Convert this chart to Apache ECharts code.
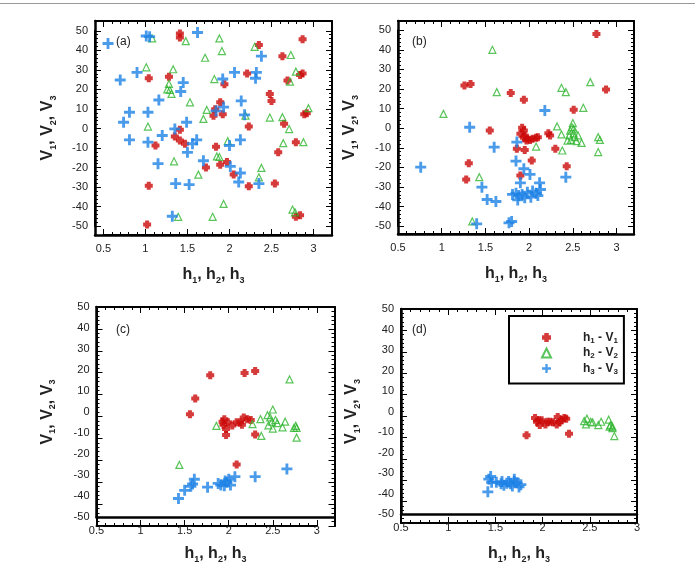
<!DOCTYPE html>
<html><head><meta charset="utf-8">
<script src="https://cdn.jsdelivr.net/npm/echarts@6/dist/echarts.min.js"></script>
<style>html,body{margin:0;padding:0;background:#fff}#c{width:695px;height:565px;border-top:0}#topline{position:absolute;left:0;top:3px;width:695px;height:0;border-top:1.5px solid #999}</style>
</head><body><div id="topline"></div><div id="c"></div>
<script>
// ---------- DATA ----------
const xTickLabels = [0.5, 1, 1.5, 2, 2.5, 3];
const yTickLabels = [-50, -40, -30, -20, -10, 0, 10, 20, 30, 40, 50];
const seriesNames = ['h1 - V1', 'h2 - V2', 'h3 - V3'];
const panelTags = ['(a)', '(b)', '(c)', '(d)'];

// panel (a)
const a_h1 = [[1.41,48.6],[1.41,46.6],[2.35,42.7],[2.87,45.7],[2.63,37],[2.21,28.2],[2.87,28.2],[2.84,27.4],[2.69,24.5],[1.04,25.7],[1.28,26.5],[1.94,22.6],[2.48,17.7],[2.50,14.1],[1.89,13.4],[1.83,9.9],[1.81,6.5],[1.92,7.3],[2.92,7.8],[2.89,7.3],[2.65,2.4],[2.23,1],[1.41,-0.7],[1.35,-4.1],[1.41,-6.1],[1.47,-7.8],[1.12,-8.7],[2.79,-7.1],[1.84,-9.4],[2.58,-12.2],[1.97,-17.2],[1.89,-18.5],[1.72,-19.9],[2.05,-23.6],[2.54,-28.2],[2.23,-29.6],[1.04,-29.3],[2.79,-45.2],[2.84,-44.4],[1.02,-49.1]];
const a_h2 = [[1.08,46.1],[1.48,44.7],[1.88,46.1],[2.30,41.8],[1.91,39.6],[2.73,37.6],[1.71,36.2],[1.01,31.3],[1.33,30.3],[2.79,29.1],[2.72,24.0],[1.82,25.3],[1.28,22.8],[1.29,19.7],[1.26,20],[1.31,17.7],[1.53,13.4],[1.73,9.5],[2.19,6.6],[2.94,10.4],[1.69,4.9],[2.48,5.6],[2.63,5.8],[1.03,1],[2.71,-0.3],[1.98,-6.5],[2.64,-7.5],[2.88,-7.0],[1.85,-14.3],[1.88,-14.6],[1.34,-16.8],[2.38,-20.2],[2.35,-25],[1.63,-23.6],[1.93,-38.6],[1.80,-45.2],[1.39,-45.2],[2.75,-41.5],[2.78,-42.9]];
const a_h3 = [[0.555,43.5],[1.01,47.3],[1.05,47],[1.62,49.1],[2.38,37],[0.90,28.7],[0.70,24.8],[2.06,28.7],[2.32,28.7],[2.31,25.7],[1.92,25.3],[1.45,23.5],[1.42,18.9],[1.16,14.6],[2.14,14.1],[0.81,8.3],[1.03,8.3],[1.93,10.9],[1.84,9],[2.18,7],[0.74,3.2],[1.49,3.2],[1.35,-0.2],[1.20,-3.6],[0.81,-5.8],[1.03,-7],[1.61,-5.8],[1.56,-7.8],[2.13,-5.8],[2.0,-8.7],[1.50,-12.2],[1.15,-18],[1.69,-16.5],[2.01,-19.4],[2.13,-22.8],[2.11,-27.4],[1.36,-28.2],[1.52,-28.7],[2.35,-28.2],[1.32,-44.9]];

// panel (b)
const b_h1 = [[2.77,48.1],[1.26,21.8],[1.33,22.6],[1.79,17.9],[1.94,14.5],[2.88,19.7],[2.51,9.4],[1.55,-1.2],[1.92,0.2],[1.94,-1.2],[1.95,-3.7],[1.98,-5.4],[2.01,-6],[2.04,-5.4],[2.08,-4.9],[2.10,-4.6],[1.94,-4.9],[1.90,-2.9],[1.97,-6.3],[2.22,-2.6],[2.24,-3.7],[1.86,-10.5],[1.95,-11.1],[2.30,-10.5],[1.31,-17.9],[2.03,-16.5],[2.43,-19.4],[1.90,-24.1],[1.28,-26.2]];
const b_h2 = [[1.58,40],[1.63,18.4],[1.02,7.3],[2.37,20.6],[2.42,18.4],[2.70,23.5],[2.62,10.4],[2.32,0.9],[2.37,-3.2],[2.08,-9.4],[2.38,-11.4],[2.79,-12.2],[2.60,-7.5],[2.79,-4.6],[2.81,-6],[2.50,2.6],[2.49,0.5],[2.47,-1.2],[2.51,-2.6],[2.46,-3.7],[2.52,-4.6],[2.48,-6],[2.54,-6.6],[2.44,-6.3],[2.56,-3.7],[2.51,-0.3],[1.43,-25],[1.35,-47.6]];
const b_h3 = [[0.76,-19.9],[1.32,0.5],[1.60,-9.7],[2.18,9],[1.86,-7.1],[1.85,-16.8],[1.94,-20.7],[2.01,-23.6],[2.42,-25],[1.46,-30.1],[1.52,-36.4],[1.62,-37.4],[1.40,-48.8],[1.77,-48.3],[1.80,-47.6],[1.90,-27.9],[2.12,-27.9],[2.13,-31.3],[1.85,-33.2],[1.88,-34.4],[1.92,-33.8],[1.98,-32.7],[2.04,-32.1],[2.08,-33.2],[1.87,-36.6],[1.95,-35.5],[2.02,-35.2],[2.10,-34.4],[1.81,-33.8]];

// panel (c)
const c_h1 = [[1.79,17.5],[2.18,18.6],[2.30,19.5],[1.62,6.4],[1.56,-1.1],[1.95,-3.5],[1.94,-6.1],[1.97,-8.1],[1.99,-4.9],[2.04,-6.4],[2.09,-4.9],[2.15,-6.1],[2.17,-2.6],[2.21,-3.4],[2.25,-3.8],[2.13,-4.9],[1.93,-4.6],[1.97,-11],[2.30,-10.7],[2.09,-25]];
const c_h2 = [[2.69,15.5],[2.50,1.2],[2.44,-1.5],[2.47,-2.6],[2.36,-3.4],[2.53,-3.8],[2.49,-4.6],[2.55,-5.3],[2.45,-6.4],[2.50,-7.9],[2.64,-4.6],[2.61,-7.3],[2.27,-5.8],[1.86,-6.6],[2.37,-11.4],[2.76,-6.6],[2.77,-7.6],[2.74,-7.6],[2.77,-12.2],[1.44,-25.2]];
const c_h3 = [[1.43,-41.2],[1.50,-37.3],[1.57,-35.4],[1.59,-34.3],[1.61,-32],[1.76,-35.8],[1.88,-34],[1.91,-34.8],[1.96,-32.8],[1.98,-33.5],[2.02,-34.8],[2.0,-32],[1.95,-35.1],[2.07,-30.8],[2.30,-30.8],[2.66,-27.1]];

// panel (d)
const d_h1 = [[1.83,-11.6],[1.92,-3.2],[1.94,-5],[1.97,-6.6],[1.99,-4.3],[2.03,-6.3],[2.08,-5],[2.11,-5.3],[2.16,-2.7],[2.15,-6.3],[2.20,-4.3],[2.23,-3.2],[2.25,-3.5],[2.28,-10.8],[2.05,-5],[2.18,-5.3],[1.96,-4.3]];
const d_h2 = [[2.44,-4.7],[2.46,-6.3],[2.47,-3.5],[2.51,-5],[2.53,-5.3],[2.59,-6.6],[2.62,-5],[2.70,-4],[2.71,-7.4],[2.74,-8.1],[2.74,-7.4],[2.76,-12],[2.72,-6.6]];
const d_h3 = [[1.45,-31.7],[1.43,-33],[1.46,-34.5],[1.42,-39.2],[1.51,-34.5],[1.57,-34.2],[1.59,-36],[1.62,-35],[1.66,-35.3],[1.70,-34.2],[1.70,-33],[1.73,-34.8],[1.75,-36.8],[1.77,-35.7],[1.56,-35.3],[1.64,-34.2],[1.68,-36.4]];

const panelData = [[a_h1,a_h2,a_h3],[b_h1,b_h2,b_h3],[c_h1,c_h2,c_h3],[d_h1,d_h2,d_h3]];

// ---------- LAYOUT / STYLE ----------
const layout = [
  {left:95,   top:21,  width:237, height:214, xMin:0.4, xMax:3.22, yMin:-54.5, yMax:55, xGap:30, yGap:37},
  {left:398,  top:21,  width:236, height:213, xMin:0.5, xMax:3.2,  yMin:-54,   yMax:54.7, xGap:30, yGap:38},
  {left:96.5, top:307, width:238, height:219, xMin:0.5, xMax:3.2,  yMin:-50,   yMax:50, xGap:27, yGap:39},
  {left:401,  top:309, width:236, height:214, xMin:0.5, xMax:3.0,  yMin:-50,   yMax:50, xGap:30, yGap:39}
];
const tagPos = [[116,36],[412,36],[116,324],[412,324]];

const FONT = '"Liberation Sans", Arial, sans-serif';
const lab = {fontSize: 11, color: '#222', fontFamily: FONT};
const tick = {show: true, inside: true, length: 6, lineStyle: {color: '#000', width: 1}};
const minor = {show: true, splitNumber: 5, length: 3, lineStyle: {color: '#000', width: 1}};
const nameRich = {m: {fontSize: 16, fontWeight: 'bold', fontFamily: FONT, color: '#222', lineHeight: 20},
                  s: {fontSize: 9, fontWeight: 'bold', fontFamily: FONT, color: '#222', lineHeight: 10, verticalAlign: 'bottom'}};

const xAxis = [], yAxis = [], grid = [], series = [], title = [];
layout.forEach((L, g) => {
  const xMaj = xTickLabels.filter(v => v >= L.xMin && v <= L.xMax);
  const yMaj = yTickLabels.filter(v => v >= L.yMin && v <= L.yMax);
  const tx0 = xMaj[0], tx1 = xMaj[xMaj.length - 1], ty0 = yMaj[0], ty1 = yMaj[yMaj.length - 1];
  const xs = L.width / (L.xMax - L.xMin), ys = L.height / (L.yMax - L.yMin);
  const xRect = {left: L.left + (tx0 - L.xMin) * xs, width: (tx1 - tx0) * xs, top: L.top, height: L.height};
  const yRect = {left: L.left, width: L.width, top: L.top + (L.yMax - ty1) * ys, height: (ty1 - ty0) * ys};
  const addGrid = r => { grid.push({...r}); return grid.length - 1; };

  const g0 = addGrid({left: L.left, top: L.top, width: L.width, height: L.height});
  const xi = xAxis.length, yi = yAxis.length;
  xAxis.push({gridIndex: g0, type: 'value', min: L.xMin, max: L.xMax, position: 'bottom', splitLine: {show: false},
    name: '{m|h}{s|1}{m|, h}{s|2}{m|, h}{s|3}', nameLocation: 'middle', nameGap: L.xGap, nameTextStyle: {rich: nameRich},
    axisLine: {show: true, onZero: false, lineStyle: {color: '#000', width: 2.5}}, axisTick: {show: false},
    axisLabel: {show: true, customValues: xMaj, margin: 8, ...lab}});
  yAxis.push({gridIndex: g0, type: 'value', min: L.yMin, max: L.yMax, position: 'left', splitLine: {show: false},
    name: '{m|V}{s|1}{m|, V}{s|2}{m|, V}{s|3}', nameLocation: 'middle', nameRotate: 90, nameGap: L.yGap, nameTextStyle: {rich: nameRich},
    axisLine: {show: true, onZero: false, lineStyle: {color: '#000', width: 2.5}}, axisTick: {show: false},
    axisLabel: {show: true, customValues: yMaj, margin: 7, ...lab}});
  const g1 = addGrid({left: L.left, top: L.top, width: L.width, height: L.height});
  xAxis.push({gridIndex: g1, type: 'value', min: L.xMin, max: L.xMax, position: 'top', splitLine: {show: false},
    axisLine: {show: true, onZero: false, lineStyle: {color: '#000', width: 2}}, axisTick: {show: false}, axisLabel: {show: false}});
  yAxis.push({gridIndex: g1, type: 'value', min: L.yMin, max: L.yMax, position: 'right', splitLine: {show: false},
    axisLine: {show: true, onZero: false, lineStyle: {color: '#000', width: 2}}, axisTick: {show: false}, axisLabel: {show: false}});
  ['bottom', 'top'].forEach(pos => {
    const gi = addGrid(xRect);
    xAxis.push({gridIndex: gi, type: 'value', min: tx0, max: tx1, interval: 0.5, position: pos, splitLine: {show: false},
      axisLine: {show: true, onZero: false, lineStyle: {color: '#000', width: 2}}, axisTick: tick, minorTick: minor, axisLabel: {show: false}});
    yAxis.push({gridIndex: gi, type: 'value', min: L.yMin, max: L.yMax, show: false});
  });
  ['left', 'right'].forEach(pos => {
    const gi = addGrid(yRect);
    xAxis.push({gridIndex: gi, type: 'value', min: L.xMin, max: L.xMax, show: false});
    yAxis.push({gridIndex: gi, type: 'value', min: ty0, max: ty1, interval: 10, position: pos, splitLine: {show: false},
      axisLine: {show: true, onZero: false, lineStyle: {color: '#000', width: 2}}, axisTick: tick, minorTick: minor, axisLabel: {show: false}});
  });

  const styles = [
    {symbol: 'path://M2.5,0H7.5V2.5H10V7.5H7.5V10H2.5V7.5H0V2.5H2.5Z', symbolSize: 8, itemStyle: {color: '#cc0a0a'}},
    {symbol: 'triangle', symbolSize: 7, itemStyle: {color: 'rgba(255,255,255,0)', borderColor: '#2fb52f', borderWidth: 1.2}},
    {symbol: 'path://M3.7,0H6.3V3.7H10V6.3H6.3V10H3.7V6.3H0V3.7H3.7Z', symbolSize: 11, itemStyle: {color: '#1e82e6'}}
  ];
  panelData[g].forEach((arr, k) => {
    series.push({type: 'scatter', name: seriesNames[k], xAxisIndex: xi, yAxisIndex: yi,
      data: arr, ...styles[k]});
  });
  title.push({text: panelTags[g], left: tagPos[g][0], top: tagPos[g][1], padding: 0,
    textStyle: {fontSize: 12, fontWeight: 'normal', color: '#222', fontFamily: FONT}});
});

const chart = echarts.init(document.getElementById('c'));
chart.setOption({
  animation: false,
  title, grid, xAxis, yAxis, series,
  legend: {
    data: seriesNames, orient: 'vertical', left: 509, top: 316, padding: [15.5, 6, 8, 32],
    borderColor: '#000', borderWidth: 2,
    itemWidth: 9, itemHeight: 9, itemGap: 2.5, selectedMode: false,
    formatter: function (n) { const p = n.split(' - '); return '{m|' + p[0][0] + '}{s|' + p[0][1] + '}{m| - ' + p[1][0] + '}{s|' + p[1][1] + '}'; },
    textStyle: {padding: [0, 0, 0, 27], rich: {
      m: {fontSize: 12, fontWeight: 'bold', fontFamily: FONT, color: '#222', lineHeight: 14},
      s: {fontSize: 8, fontWeight: 'bold', fontFamily: FONT, color: '#222', lineHeight: 8, verticalAlign: 'bottom'}}}
  }
});
</script>
</body></html>
